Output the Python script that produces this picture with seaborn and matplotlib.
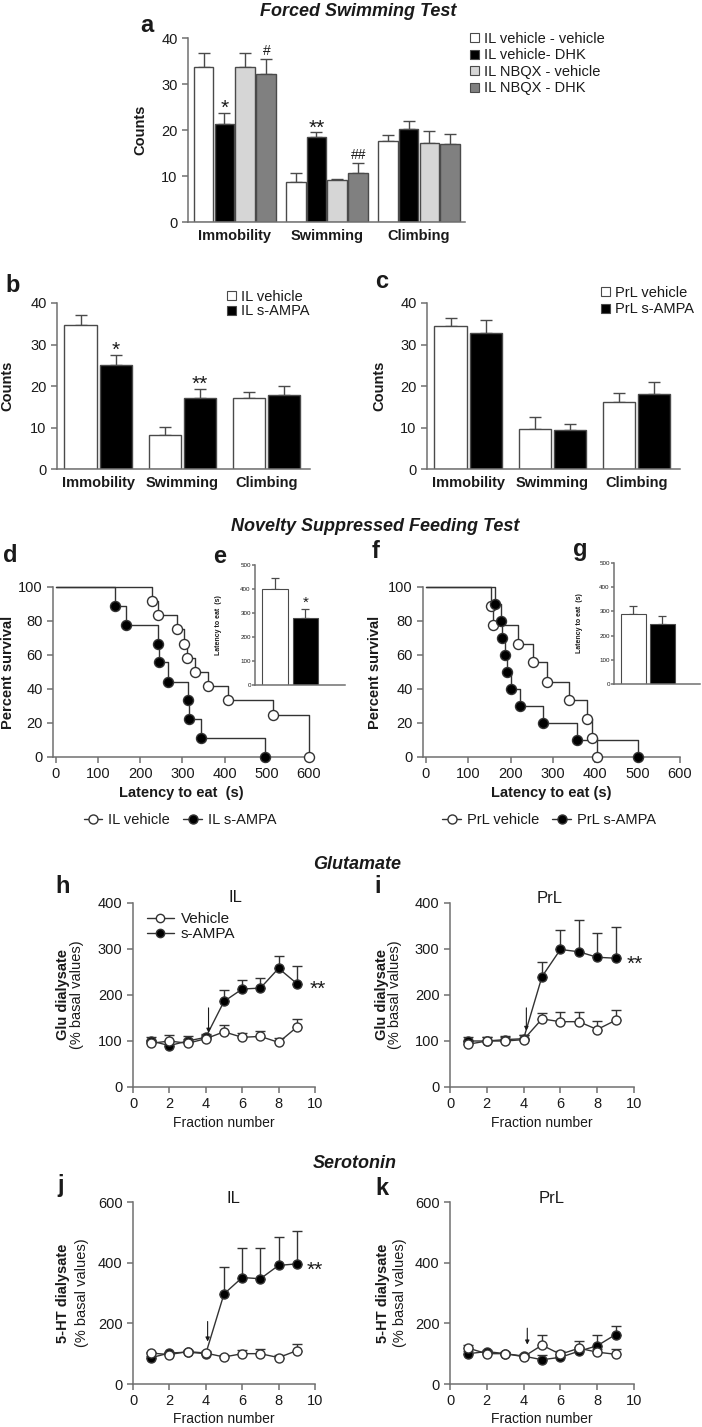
import numpy as np
import pandas as pd
import seaborn as sns
import matplotlib.pyplot as plt
from matplotlib.lines import Line2D
from matplotlib.patches import Patch

# ---------------- data ----------------
fst_tests = ['Immobility', 'Swimming', 'Climbing']

# a: forced swimming, IL vehicle/NBQX + vehicle/DHK
a_groups = ['IL vehicle - vehicle', 'IL vehicle- DHK', 'IL NBQX - vehicle', 'IL NBQX - DHK']
a_veh_veh = [33.7, 8.8, 17.7]
a_veh_dhk = [21.4, 18.5, 20.2]
a_nbqx_veh = [33.8, 9.1, 17.2]
a_nbqx_dhk = [32.2, 10.7, 17.0]
a_veh_veh_sem = [3.1, 1.9, 1.2]
a_veh_dhk_sem = [2.4, 1.0, 1.8]
a_nbqx_veh_sem = [2.9, 0.2, 2.6]
a_nbqx_dhk_sem = [3.2, 2.1, 2.1]
a_sig = [(1, 0, '*'), (3, 0, '#'), (1, 1, '**'), (3, 1, '##')]

# b: IL s-AMPA
b_groups = ['IL vehicle', 'IL s-AMPA']
b_veh = [34.8, 8.3, 17.0]
b_ampa = [25.1, 17.2, 17.8]
b_veh_sem = [2.2, 1.9, 1.6]
b_ampa_sem = [2.4, 2.1, 2.1]
b_sig = [(1, 0, '*'), (1, 1, '**')]

# c: PrL s-AMPA
c_groups = ['PrL vehicle', 'PrL s-AMPA']
c_veh = [34.4, 9.7, 16.1]
c_ampa = [32.8, 9.3, 18.1]
c_veh_sem = [2.1, 2.9, 2.3]
c_ampa_sem = [3.2, 1.6, 2.8]

# d/f: novelty suppressed feeding, survival curves
d_veh_t = [228, 241, 286, 304, 310, 330, 361, 407, 515, 600]
d_veh_s = [91.7, 83.3, 75.0, 66.7, 58.3, 50.0, 41.7, 33.3, 25.0, 0]
d_ampa_t = [140, 166, 241, 244, 266, 313, 316, 344, 495]
d_ampa_s = [88.9, 77.8, 66.7, 55.6, 44.4, 33.3, 22.2, 11.1, 0]
f_veh_t = [154, 158, 218, 252, 285, 338, 380, 392, 403]
f_veh_s = [88.9, 77.8, 66.7, 55.6, 44.4, 33.3, 22.2, 11.1, 0]
f_ampa_t = [163, 177, 179, 187, 192, 200, 222, 276, 357, 500]
f_ampa_s = [90, 80, 70, 60, 50, 40, 30, 20, 10, 0]

# e/g: latency to eat
e_lat = [400, 280]
e_sem = [44, 35]
g_lat = [290, 248]
g_sem = [33, 33]

# h-k: microdialysis
fractions = [1, 2, 3, 4, 5, 6, 7, 8, 9]
h_veh = [95, 100, 95, 105, 120, 108, 110, 97, 130]
h_veh_sem = [8, 12, 10, 8, 14, 10, 12, 10, 18]
h_ampa = [100, 90, 100, 108, 186, 213, 215, 258, 225]
h_ampa_sem = [8, 10, 10, 8, 25, 20, 22, 27, 37]
i_veh = [93, 100, 100, 103, 148, 142, 142, 125, 145]
i_veh_sem = [6, 8, 8, 10, 12, 20, 20, 18, 22]
i_ampa = [100, 100, 103, 105, 240, 299, 294, 282, 280]
i_ampa_sem = [8, 8, 8, 8, 32, 43, 70, 52, 68]
j_veh = [102, 97, 107, 102, 89, 100, 100, 87, 110]
j_veh_sem = [5, 5, 5, 8, 5, 12, 15, 8, 22]
j_ampa = [87, 102, 105, 100, 297, 351, 347, 391, 396]
j_ampa_sem = [5, 5, 5, 5, 90, 97, 101, 95, 109]
k_veh = [118, 100, 100, 90, 128, 98, 118, 105, 98]
k_veh_sem = [12, 8, 5, 7, 32, 10, 24, 10, 17]
k_ampa = [100, 107, 100, 92, 80, 88, 108, 126, 163]
k_ampa_sem = [10, 5, 5, 8, 17, 12, 14, 34, 29]
# injection arrows: (fraction, from, to)
h_arrow = (4.15, 172, 118)
i_arrow = (4.15, 172, 122)
j_arrow = (4.1, 206, 140)
k_arrow = (4.2, 184, 130)

# ---------------- style ----------------
sns.set_theme(style='ticks')
plt.rcParams['font.family'] = ['Liberation Sans', 'DejaVu Sans']
TXT = '#1a1a1a'
AX = '#707070'
EDGE = '#4a4a4a'
LINE = '#333333'

W, H = 702, 1427
fig = plt.figure(figsize=(W / 100, H / 100), dpi=100)


def axes_px(l, t, r, b):
    return fig.add_axes([l / W, 1 - b / H, (r - l) / W, (b - t) / H])


def text_px(x, y, s, **kw):
    kw.setdefault('color', TXT)
    fig.text(x / W, 1 - y / H, s, **kw)


def style(ax, fs=10.5, length=4):
    sns.despine(ax=ax)
    for s in ['left', 'bottom']:
        ax.spines[s].set_color(AX)
        ax.spines[s].set_linewidth(1.1)
    ax.tick_params(colors=AX, labelcolor=TXT, labelsize=fs, length=length, width=1.1, direction='out')
    ax.set_xlabel('')
    ax.set_ylabel('')


def bar_panel(ax, names, means, sems, colors, width, gap, sig):
    rows = [(t, n, v) for n, m in zip(names, means) for t, v in zip(fst_tests, m)]
    df = pd.DataFrame(rows, columns=['test', 'group', 'value'])
    sns.barplot(data=df, x='test', y='value', hue='group', order=fst_tests, hue_order=names,
                palette=colors, saturation=1, width=width, gap=gap, errorbar=None,
                edgecolor=EDGE, linewidth=1, legend=False, ax=ax)
    for cont, s in zip(ax.containers, sems):
        xs = [p.get_x() + p.get_width() / 2 for p in cont]
        hs = [p.get_height() for p in cont]
        ax.errorbar(xs, hs, yerr=[np.zeros(len(s)), s], fmt='none', ecolor=EDGE,
                    elinewidth=1, capsize=4, capthick=1, zorder=0.9)
    for gi, ti, lab in sig:
        p = ax.containers[gi][ti]
        top = p.get_height() + sems[gi][ti]
        star = lab.startswith('*')
        ax.annotate(lab, xy=(p.get_x() + p.get_width() / 2, top),
                    xytext=(0, -1 if star else 3), textcoords='offset points',
                    ha='center', va='baseline', fontsize=15 if star else 10, color=TXT)
    style(ax)
    ax.set_ylim(0, 40)
    ax.set_yticks([0, 10, 20, 30, 40])
    ax.tick_params(axis='x', length=0, pad=5)
    for lab in ax.get_xticklabels():
        lab.set_fontweight('bold')
        lab.set_fontsize(10.5)
    ax.set_ylabel('Counts', fontsize=10.5, fontweight='bold', color=TXT)


def bar_legend(ax, names, colors, x, y, spacing):
    handles = [Patch(facecolor=c, edgecolor=EDGE, linewidth=0.8) for c in colors]
    ax.legend(handles, names, loc='upper left', bbox_to_anchor=(x / W, 1 - y / H),
              bbox_transform=fig.transFigure, frameon=False, borderpad=0, borderaxespad=0,
              handlelength=0.6, handleheight=0.6, handletextpad=0.35, labelspacing=spacing,
              fontsize=10.5, labelcolor=TXT)


def km_panel(ax, series):
    for t, s, fc in series:
        sns.lineplot(x=[0] + t, y=[100] + s, drawstyle='steps-post', color=LINE, lw=1,
                     estimator=None, sort=False, ax=ax, legend=False, clip_on=False)
        sns.scatterplot(x=t, y=s, marker='o', s=52, color=fc, edgecolor=LINE, linewidth=1,
                        zorder=3, clip_on=False, ax=ax, legend=False)
    style(ax)
    ax.set_xlim(-7, 600)
    ax.set_ylim(0, 100)
    ax.set_xticks(range(0, 601, 100))
    ax.set_yticks(range(0, 101, 20))


def lat_panel(ax, vals, sems, sig):
    df = pd.DataFrame({'grp': ['vehicle', 's-AMPA'], 'lat': vals})
    sns.barplot(data=df, x='grp', y='lat', hue='grp', palette=['white', 'black'], saturation=1,
                width=0.85, errorbar=None, edgecolor=EDGE, linewidth=0.8, legend=False, ax=ax)
    xs = [p.get_x() + p.get_width() / 2 for p in ax.patches]
    ax.errorbar(xs, vals, yerr=[np.zeros(2), sems], fmt='none', ecolor=EDGE,
                elinewidth=0.9, capsize=3, capthick=0.9, zorder=0.9)
    if sig:
        ax.annotate(sig, xy=(xs[1], vals[1] + sems[1]), xytext=(0, 2), textcoords='offset points',
                    ha='center', va='baseline', fontsize=11, color=TXT)
    style(ax, fs=4.5, length=2)
    ax.tick_params(pad=1)
    ax.set_ylim(0, 500)
    ax.set_yticks(range(0, 501, 100))
    ax.set_xticks([])
    ax.set_xlim(-0.66, 2.3)
    ax.text(-0.4, 0.5, 'Latency to eat  (s)', transform=ax.transAxes, rotation=90,
            ha='center', va='center', fontsize=5, fontweight='bold', color=TXT)


def dial_panel(ax, veh, veh_sem, ampa, ampa_sem, ymax, ystep, arrow, sig_dx):
    for y, e, fc in [(ampa, ampa_sem, 'black'), (veh, veh_sem, 'white')]:
        ax.errorbar(fractions, y, yerr=[np.zeros(len(e)), e], fmt='none', ecolor=LINE,
                    elinewidth=1, capsize=3.5, capthick=1, zorder=2)
        sns.lineplot(x=fractions, y=y, color=LINE, lw=1, marker='o', markersize=6.5,
                     markerfacecolor=fc, markeredgecolor=LINE, markeredgewidth=1,
                     estimator=None, ax=ax, legend=False, zorder=3)
    ax.annotate('', xy=(arrow[0], arrow[2]), xytext=(arrow[0], arrow[1]),
                arrowprops=dict(arrowstyle='-|>', color=TXT, lw=0.8, mutation_scale=6,
                                shrinkA=0, shrinkB=0))
    if sig_dx is not None:
        ax.annotate('**', xy=(fractions[-1], ampa[-1]), xytext=(sig_dx, -8.5),
                    textcoords='offset points', ha='left', va='baseline', fontsize=15,
                    color=TXT, annotation_clip=False)
    style(ax)
    ax.set_xlim(0, 10)
    ax.set_ylim(0, ymax)
    ax.set_xticks(range(0, 11, 2))
    ax.set_yticks(range(0, ymax + 1, ystep))
    ax.set_xlabel('Fraction number', fontsize=10, color=TXT)
    ax.xaxis.set_label_coords(0.5, -0.155)


# ---------------- panel a ----------------
ax_a = axes_px(188, 38, 465, 222)
a_colors = ['white', 'black', '#d6d6d6', '#808080']
bar_panel(ax_a, a_groups, [a_veh_veh, a_veh_dhk, a_nbqx_veh, a_nbqx_dhk],
          [a_veh_veh_sem, a_veh_dhk_sem, a_nbqx_veh_sem, a_nbqx_dhk_sem],
          a_colors, 0.91, 0.05, a_sig)
ax_a.set_xlim(-0.51, 2.5)
ax_a.yaxis.set_label_coords(-0.145, 0.5)
bar_legend(ax_a, a_groups, a_colors, 470, 32, 0.17)

# ---------------- panel b / c ----------------
ax_b = axes_px(57, 303, 310, 469)
bar_panel(ax_b, b_groups, [b_veh, b_ampa], [b_veh_sem, b_ampa_sem],
          ['white', 'black'], 0.84, 0.09, b_sig)
ax_b.set_xlim(-0.49, 2.52)
ax_b.yaxis.set_label_coords(-0.17, 0.5)
bar_legend(ax_b, b_groups, ['white', 'black'], 227, 290, 0.03)

ax_c = axes_px(427, 303, 680, 469)
bar_panel(ax_c, c_groups, [c_veh, c_ampa], [c_veh_sem, c_ampa_sem],
          ['white', 'black'], 0.84, 0.09, [])
ax_c.set_xlim(-0.49, 2.52)
ax_c.yaxis.set_label_coords(-0.16, 0.5)
bar_legend(ax_c, c_groups, ['white', 'black'], 601, 286, 0.16)

# ---------------- panels d - g ----------------
ax_d = axes_px(53, 587, 309, 757)
km_panel(ax_d, [(d_veh_t, d_veh_s, 'white'), (d_ampa_t, d_ampa_s, 'black')])
ax_d.set_xlabel('Latency to eat  (s)', fontsize=10.5, fontweight='bold', color=TXT)
ax_d.xaxis.set_label_coords(0.5, -0.17)
ax_d.set_ylabel('Percent survival', fontsize=10.5, fontweight='bold', color=TXT)
ax_d.yaxis.set_label_coords(-0.15, 0.5)

ax_f = axes_px(423, 587, 680, 757)
km_panel(ax_f, [(f_veh_t, f_veh_s, 'white'), (f_ampa_t, f_ampa_s, 'black')])
ax_f.set_xlabel('Latency to eat (s)', fontsize=10.5, fontweight='bold', color=TXT)
ax_f.xaxis.set_label_coords(0.5, -0.17)
ax_f.set_ylabel('Percent survival', fontsize=10.5, fontweight='bold', color=TXT)
ax_f.yaxis.set_label_coords(-0.16, 0.5)

for ax, labels, cx in [(ax_d, ['IL vehicle', 'IL s-AMPA'], 180), (ax_f, ['PrL vehicle', 'PrL s-AMPA'], 549)]:
    hs = [Line2D([0], [0], color=LINE, lw=1, marker='o', ms=6.5, mfc=fc, mec=LINE, mew=1)
          for fc in ['white', 'black']]
    fig.legend(hs, labels, loc='center', bbox_to_anchor=(cx / W, 1 - 820 / H), ncol=2,
               frameon=False, fontsize=10.5, handlelength=1.3, handletextpad=0.4,
               columnspacing=0.9, labelcolor=TXT)

ax_e = axes_px(255, 565, 345, 685)
lat_panel(ax_e, e_lat, e_sem, '*')
ax_g = axes_px(614, 563, 700, 684)
lat_panel(ax_g, g_lat, g_sem, None)

# ---------------- panels h - k ----------------
ax_h = axes_px(133, 903, 315, 1087)
dial_panel(ax_h, h_veh, h_veh_sem, h_ampa, h_ampa_sem, 400, 100, h_arrow, 9)
ax_i = axes_px(450, 903, 634, 1087)
dial_panel(ax_i, i_veh, i_veh_sem, i_ampa, i_ampa_sem, 400, 100, i_arrow, 8)
ax_j = axes_px(133, 1202, 315, 1384)
dial_panel(ax_j, j_veh, j_veh_sem, j_ampa, j_ampa_sem, 600, 200, j_arrow, 7)
ax_k = axes_px(450, 1202, 634, 1384)
dial_panel(ax_k, k_veh, k_veh_sem, k_ampa, k_ampa_sem, 600, 200, k_arrow, None)

hs = [Line2D([0], [0], color=LINE, lw=1, marker='o', ms=6, mfc=fc, mec=LINE, mew=1)
      for fc in ['white', 'black']]
ax_h.legend(hs, ['Vehicle', 's-AMPA'], loc='upper left', bbox_to_anchor=(0.075, 0.95),
            frameon=False, borderpad=0, borderaxespad=0, fontsize=11, handlelength=1.8,
            handletextpad=0.45, labelspacing=0.05, labelcolor=TXT)

for ax, bold, xb, xn in [(ax_h, 'Glu dialysate', -0.385, -0.305),
                         (ax_i, 'Glu dialysate', -0.37, -0.30),
                         (ax_j, '5-HT dialysate', -0.385, -0.28),
                         (ax_k, '5-HT dialysate', -0.365, -0.27)]:
    ax.text(xb, 0.5, bold, transform=ax.transAxes, rotation=90, ha='center', va='center',
            fontsize=10.5, fontweight='bold', color=TXT)
    ax.text(xn, 0.5, '(% basal values)', transform=ax.transAxes, rotation=90, ha='center',
            va='center', fontsize=10.5, color=TXT)

# ---------------- titles and letters ----------------
for x, y, s in [(358, 16, 'Forced Swimming Test'), (375, 531, 'Novelty Suppressed Feeding Test'),
                (357, 869, 'Glutamate'), (355, 1168, 'Serotonin')]:
    text_px(x, y, s, ha='center', va='baseline', fontsize=13, fontweight='bold', fontstyle='italic')

for x, y, s in [(235, 902, 'IL'), (550, 903, 'PrL'), (233, 1203, 'IL'), (552, 1203, 'PrL')]:
    text_px(x, y, s, ha='center', va='baseline', fontsize=12)

for x, y, s in [(140, 32, 'a'), (5, 292, 'b'), (375, 288, 'c'), (3, 562, 'd'), (213, 563, 'e'),
                (372, 558, 'f'), (573, 556, 'g'), (55, 893, 'h'), (374, 893, 'i'),
                (57, 1192, 'j'), (375, 1195, 'k')]:
    text_px(x, y, s, ha='left', va='baseline', fontsize=17, fontweight='bold')

fig.savefig('out.png', dpi=100, facecolor='white')
